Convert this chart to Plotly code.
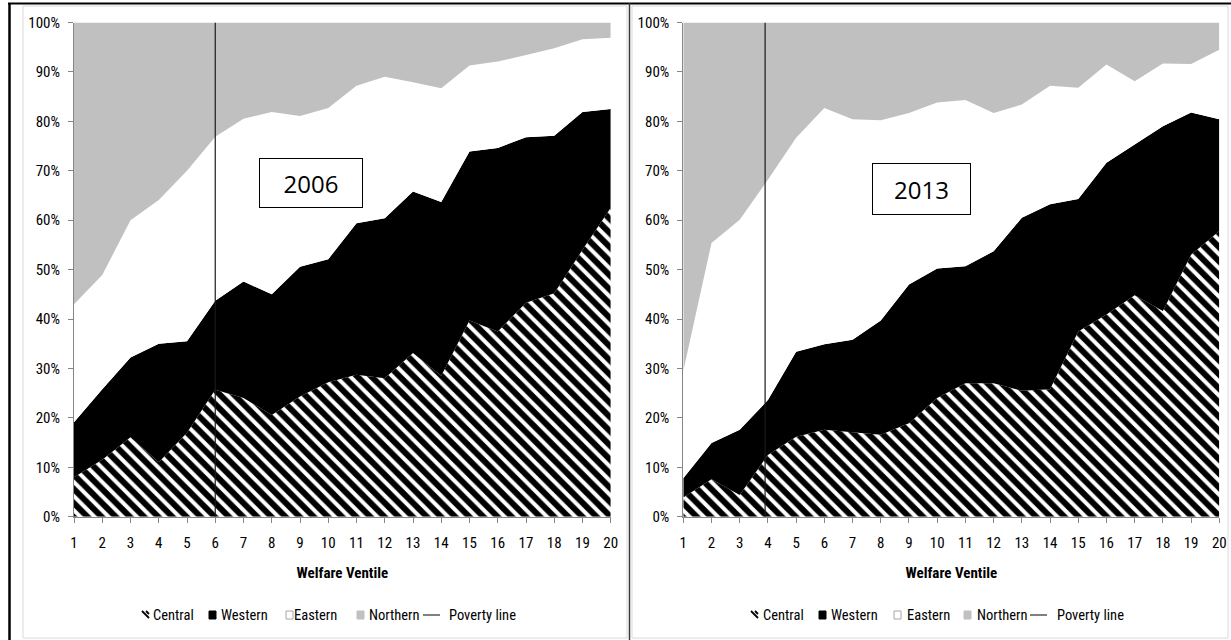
import plotly.graph_objects as go

W, H = 1231, 640

ventiles = list(range(1, 21))
tick_labels = [str(v) for v in ventiles]
y_ticks = list(range(0, 101, 10))
y_tick_labels = [f"{v}%" for v in y_ticks]

# Regional shares (%) by welfare ventile, 2006
central_2006 = [8.0, 11.5, 16.1, 11.0, 17.0, 25.7, 24.0, 20.6, 24.3, 27.2, 28.7, 28.0, 33.1, 28.5, 39.7, 37.5, 43.3, 45.2, 54.0, 62.5]
western_2006 = [11.1, 14.3, 16.1, 24.0, 18.5, 18.0, 23.6, 24.4, 26.3, 24.9, 30.7, 32.4, 32.7, 35.2, 34.2, 37.1, 33.5, 31.9, 27.9, 20.0]
eastern_2006 = [23.9, 23.1, 27.8, 29.1, 34.5, 33.2, 32.9, 36.9, 30.5, 30.6, 27.8, 28.6, 22.1, 23.0, 17.4, 17.5, 16.6, 17.7, 14.7, 14.4]
northern_2006 = [57.0, 51.1, 40.0, 35.9, 30.0, 23.1, 19.5, 18.1, 18.9, 17.3, 12.8, 11.0, 12.1, 13.3, 8.7, 7.9, 6.6, 5.2, 3.4, 3.1]

# Regional shares (%) by welfare ventile, 2013
central_2013 = [3.9, 7.6, 4.4, 12.5, 16.2, 17.6, 17.1, 16.6, 18.9, 24.0, 27.0, 27.0, 25.5, 25.8, 37.5, 40.9, 44.8, 41.6, 53.0, 57.8]
western_2013 = [3.9, 7.3, 13.2, 11.1, 17.2, 17.3, 18.7, 23.1, 28.1, 26.2, 23.7, 26.7, 35.0, 37.4, 26.8, 30.7, 30.5, 37.4, 28.8, 22.6]
eastern_2013 = [21.7, 40.5, 42.5, 44.6, 43.3, 47.8, 44.6, 40.5, 34.7, 33.6, 33.6, 28.0, 22.9, 24.0, 22.5, 19.9, 12.8, 12.7, 9.8, 14.1]
northern_2013 = [70.5, 44.6, 39.9, 31.8, 23.3, 17.3, 19.6, 19.8, 18.3, 16.2, 15.7, 18.3, 16.6, 12.8, 13.2, 8.5, 11.9, 8.3, 8.4, 5.5]

poverty_line_2006 = 6.0
poverty_line_2013 = 3.9

series_names = ["Central", "Western", "Eastern", "Northern"]
line_name = "Poverty line"
year_labels = ["2006", "2013"]
x_title = "Welfare Ventile"

FONT = "Liberation Sans Narrow, Arial Narrow, Roboto Condensed, sans-serif"
GREY = "#c0c0c0"
AXIS = "#868686"
HATCH = dict(shape="\\", fgcolor="black", bgcolor="white", fgopacity=1,
             size=10, solidity=0.6, fillmode="replace")


def px(v):
    return v / W


def py(v):
    return 1 - v / H


fig = go.Figure()

panels = [
    ("x", "y", "a", [central_2006, western_2006, eastern_2006, northern_2006], poverty_line_2006),
    ("x2", "y2", "b", [central_2013, western_2013, eastern_2013, northern_2013], poverty_line_2013),
]
fills = ["white", "black", "white", GREY]

for xa, ya, sg, vals, pl in panels:
    for i, (name, v) in enumerate(zip(series_names, vals)):
        kw = dict(fillpattern=HATCH) if i == 0 else {}
        fig.add_trace(go.Scatter(
            x=ventiles, y=v, name=name, stackgroup=sg, mode="none",
            fillcolor=fills[i], xaxis=xa, yaxis=ya, showlegend=False,
            hoverinfo="skip", **kw))
    fig.add_trace(go.Scatter(
        x=[pl, pl], y=[0, 100], name=line_name, mode="lines",
        line=dict(color="#1a1a1a", width=1.2), showlegend=False,
        xaxis=xa, yaxis=ya, hoverinfo="skip"))


def xaxis_cfg(domain, anchor):
    return dict(
        domain=domain, anchor=anchor, range=[1, 20], tickmode="array",
        tickvals=ventiles, ticktext=tick_labels, ticks="outside", ticklen=5,
        tickcolor=AXIS, showline=True, linecolor=AXIS, linewidth=1,
        showgrid=False, zeroline=False, ticklabelstandoff=7, automargin=False,
        tickfont=dict(family=FONT, size=15, color="black"),
        title=dict(text=f"<b>{x_title}</b>", standoff=16,
                   font=dict(family=FONT, size=15, color="black")),
    )


def yaxis_cfg(anchor):
    return dict(
        domain=[(H - 516.7) / H, (H - 22.5) / H], anchor=anchor, range=[0, 100],
        tickmode="array", tickvals=y_ticks, ticktext=y_tick_labels,
        ticks="outside", ticklen=5, tickcolor=AXIS, showline=True,
        linecolor=AXIS, linewidth=1, showgrid=False, zeroline=False,
        ticklabelstandoff=5, automargin=False,
        tickfont=dict(family=FONT, size=15, color="black"),
    )


shapes = [
    # chart area borders
    dict(type="rect", xref="paper", yref="paper", x0=px(23), x1=px(627), y0=py(638), y1=py(6),
         line=dict(color="#d9d9d9", width=1)),
    dict(type="rect", xref="paper", yref="paper", x0=px(632), x1=px(1228), y0=py(638), y1=py(6),
         line=dict(color="#d9d9d9", width=1)),
    # page/table borders
    dict(type="line", xref="paper", yref="paper", x0=px(8), x1=1, y0=py(3.5), y1=py(3.5),
         line=dict(color="black", width=2)),
    dict(type="line", xref="paper", yref="paper", x0=px(9.5), x1=px(9.5), y0=0, y1=py(3),
         line=dict(color="black", width=2.5)),
    dict(type="line", xref="paper", yref="paper", x0=px(629.5), x1=px(629.5), y0=0, y1=py(3),
         line=dict(color="#3a3a3a", width=1.5)),
]

annotations = [
    dict(xref="paper", yref="paper", x=px(311), y=py(183), text=year_labels[0], showarrow=False,
         font=dict(family="Open Sans, sans-serif", size=24, color="black"),
         bgcolor="white", bordercolor="black", borderwidth=1, width=100, height=46,
         xanchor="center", yanchor="middle"),
    dict(xref="paper", yref="paper", x=px(921.5), y=py(189), text=year_labels[1], showarrow=False,
         font=dict(family="Open Sans, sans-serif", size=24, color="black"),
         bgcolor="white", bordercolor="black", borderwidth=1, width=95, height=48,
         xanchor="center", yanchor="middle"),
]

# Hand-laid legends (compact, like the original)
LEG_Y = 615
legend_layouts = [
    dict(icons=[142, 209, 286, 357], texts=[151, 219, 292, 367], dash=(423, 440), dash_text=447),
    dict(icons=[751, 819, 894, 964], texts=[761, 829, 905, 975], dash=(1030, 1047), dash_text=1055),
]
for k, lay in enumerate(legend_layouts):
    for i, name in enumerate(series_names):
        x0 = lay["icons"][i]
        if i == 0:
            shapes.append(dict(type="rect", xref="paper", yref="paper",
                               x0=px(x0), x1=px(x0 + 7), y0=py(LEG_Y + 4), y1=py(LEG_Y - 4),
                               line=dict(width=0), fillcolor="white"))
            for d in (0, 4):
                shapes.append(dict(type="line", xref="paper", yref="paper",
                                   x0=px(x0 + d), y0=py(LEG_Y - 4),
                                   x1=px(x0 + 7), y1=py(LEG_Y + 3 - d),
                                   line=dict(color="black", width=1.8)))
        else:
            shapes.append(dict(type="rect", xref="paper", yref="paper",
                               x0=px(x0), x1=px(x0 + 7), y0=py(LEG_Y + 4), y1=py(LEG_Y - 4),
                               line=dict(color="#a6a6a6" if i == 2 else fills[i], width=1),
                               fillcolor=fills[i]))
        annotations.append(dict(xref="paper", yref="paper", x=px(lay["texts"][i]), y=py(LEG_Y),
                                text=name, showarrow=False, xanchor="left", yanchor="middle",
                                font=dict(family=FONT, size=14.5, color="black")))
    d0, d1 = lay["dash"]
    shapes.append(dict(type="line", xref="paper", yref="paper", x0=px(d0), x1=px(d1),
                       y0=py(LEG_Y), y1=py(LEG_Y), line=dict(color="black", width=1)))
    annotations.append(dict(xref="paper", yref="paper", x=px(lay["dash_text"]), y=py(LEG_Y),
                            text=line_name, showarrow=False, xanchor="left", yanchor="middle",
                            font=dict(family=FONT, size=14.5, color="black")))

fig.update_layout(
    width=W, height=H, margin=dict(l=0, r=0, t=0, b=0, autoexpand=False),
    paper_bgcolor="white", plot_bgcolor="white",
    xaxis=xaxis_cfg([px(74), px(610.75)], "y"),
    yaxis=yaxis_cfg("x"),
    xaxis2=xaxis_cfg([px(683.3), px(1219.3)], "y2"),
    yaxis2=yaxis_cfg("x2"),
    shapes=shapes, annotations=annotations,
    showlegend=False, hovermode=False,
)

fig.write_html("out.html", config={"displayModeBar": False},
               post_script="document.body.style.margin='0px';")
